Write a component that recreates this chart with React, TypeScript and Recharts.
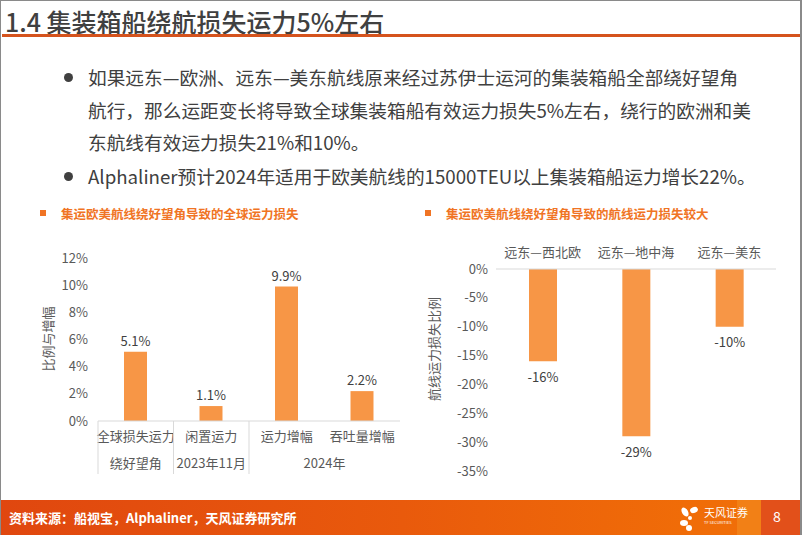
import { BarChart, Bar, XAxis, YAxis, LabelList } from "recharts";

// 左图：全球运力损失
const globalCats = ["全球损失运力", "闲置运力", "运力增幅", "吞吐量增幅"];
const globalGroups = ["绕好望角", "2023年11月", "2024年", "2024年"];
const globalValues = [5.1, 1.1, 9.9, 2.2];
const globalTicks = [0, 2, 4, 6, 8, 10, 12];

// 右图：航线运力损失
const routeCats = ["远东—西北欧", "远东—地中海", "远东—美东"];
const routeValues = [-16, -29, -10];
const routeTicks = [0, -5, -10, -15, -20, -25, -30, -35];

const ORANGE = "#f79646";
const TEXT = "#404040";
const AXIS_TEXT = "#595959";
const LINE = "#d9d9d9";
const FONT = '"Noto Sans CJK SC", "Noto Sans", sans-serif';

const L_W = 380;
const L_H = 230;
const L_MARGIN = { top: 12, right: 11, bottom: 0, left: 17 };
const L_YW = 50;
const L_BAND = (L_W - L_MARGIN.left - L_YW - L_MARGIN.right) / globalCats.length;

function GlobalTick(props: any) {
    const { x, y, payload } = props;
    const i = payload.index;
    const group = globalGroups[i];
    const isStart = i === 0 || globalGroups[i - 1] !== group;
    let run = 1;
    while (isStart && globalGroups[i + run] === group) run++;
    return (
        <g>
            <text
                x={x}
                y={y + 14}
                textAnchor="middle"
                dominantBaseline="central"
                fontSize={13}
                fill={AXIS_TEXT}
            >
                {payload.value}
            </text>
            {isStart && (
                <>
                    <text
                        x={x + ((run - 1) * L_BAND) / 2}
                        y={y + 41}
                        textAnchor="middle"
                        dominantBaseline="central"
                        fontSize={13}
                        fill={AXIS_TEXT}
                    >
                        {group}
                    </text>
                    <line
                        x1={x - L_BAND / 2}
                        x2={x - L_BAND / 2}
                        y1={y}
                        y2={y + 53}
                        stroke={LINE}
                    />
                </>
            )}
        </g>
    );
}

function BelowLabel(props: any) {
    const { x, y, width, height, value } = props;
    const bottom = Math.max(y, y + height);
    return (
        <text
            x={x + width / 2}
            y={bottom + 15}
            textAnchor="middle"
            dominantBaseline="central"
            fontSize={13}
            fill={TEXT}
        >
            {value}%
        </text>
    );
}

function ChartTitle({ left, text }: { left: number; text: string }) {
    return (
        <div style={{ position: "absolute", left, top: 203, height: 18, display: "flex", alignItems: "center" }}>
            <div style={{ width: 6, height: 6, background: "#f07424", marginRight: 15 }} />
            <span style={{ fontSize: 12.5, fontWeight: 700, color: "#f07424", whiteSpace: "nowrap" }}>{text}</span>
        </div>
    );
}

function AxisTitle({ x, y, text }: { x: number; y: number; text: string }) {
    return (
        <div
            style={{
                position: "absolute",
                left: x,
                top: y,
                transform: "translate(-50%, -50%) rotate(-90deg)",
                fontSize: 13,
                color: AXIS_TEXT,
                whiteSpace: "nowrap",
            }}
        >
            {text}
        </div>
    );
}

const bullets = [
    { dot: true, text: "如果远东—欧洲、远东—美东航线原来经过苏伊士运河的集装箱船全部绕好望角" },
    { dot: false, text: "航行，那么运距变长将导致全球集装箱船有效运力损失5%左右，绕行的欧洲和美" },
    { dot: false, text: "东航线有效运力损失21%和10%。" },
    { dot: true, text: "Alphaliner预计2024年适用于欧美航线的15000TEU以上集装箱船运力增长22%。" },
];
const bulletY = [76, 109, 141, 175];

export default function App() {
    const globalData = globalCats.map((name, i) => ({ name, value: globalValues[i] }));
    const routeData = routeCats.map((name, i) => ({ name, value: routeValues[i] }));

    return (
        <div
            style={{
                position: "absolute",
                left: 0,
                top: 0,
                width: 802,
                height: 535,
                background: "#fff",
                fontFamily: FONT,
                overflow: "hidden",
                boxSizing: "border-box",
                borderTop: "1px solid #8a8a8a",
                borderLeft: "1px solid #8a8a8a",
                borderRight: "2px solid #8a8a8a",
            }}
        >
            {/* 标题 */}
            <div
                style={{
                    position: "absolute",
                    left: 4,
                    top: 5,
                    fontSize: 25,
                    lineHeight: "30px",
                    fontWeight: 500,
                    color: TEXT,
                    whiteSpace: "nowrap",
                }}
            >
                1.4 集装箱船绕航损失运力5%左右
            </div>
            <div style={{ position: "absolute", left: 1, top: 33, width: 799, height: 3, background: "#d5531d" }} />

            {/* 正文 */}
            {bullets.map((b, i) => (
                <div key={i}>
                    {b.dot && (
                        <div
                            style={{
                                position: "absolute",
                                left: 63,
                                top: bulletY[i] - 4,
                                width: 9,
                                height: 9,
                                borderRadius: "50%",
                                background: TEXT,
                            }}
                        />
                    )}
                    <div
                        style={{
                            position: "absolute",
                            left: 87,
                            top: bulletY[i] - 14,
                            fontSize: 18.7,
                            lineHeight: "28px",
                            color: TEXT,
                            whiteSpace: "nowrap",
                        }}
                    >
                        {b.text}
                    </div>
                </div>
            ))}

            {/* 左图 */}
            <ChartTitle left={39} text="集运欧美航线绕好望角导致的全球运力损失" />
            <AxisTitle x={46} y={338} text="比例与增幅" />
            <div style={{ position: "absolute", left: 30, top: 245 }}>
                <BarChart width={L_W} height={L_H} data={globalData} margin={L_MARGIN}>
                    <XAxis
                        dataKey="name"
                        height={55}
                        axisLine={{ stroke: LINE }}
                        tickLine={false}
                        tickSize={0}
                        tickMargin={0}
                        tick={<GlobalTick />}
                        interval={0}
                    />
                    <YAxis
                        width={L_YW}
                        domain={[0, 12]}
                        ticks={globalTicks}
                        axisLine={false}
                        tickLine={false}
                        tickMargin={4}
                        tickFormatter={(v) => `${v}%`}
                        tick={{ fontSize: 13, fill: AXIS_TEXT }}
                    />
                    <Bar dataKey="value" fill={ORANGE} barSize={23} isAnimationActive={false}>
                        <LabelList
                            dataKey="value"
                            position="top"
                            offset={6}
                            formatter={(v: any) => `${v}%`}
                            style={{ fontSize: 13, fill: TEXT }}
                        />
                    </Bar>
                </BarChart>
            </div>

            {/* 右图 */}
            <ChartTitle left={424} text="集运欧美航线绕好望角导致的航线运力损失较大" />
            <AxisTitle x={432} y={348} text="航线运力损失比例" />
            <div style={{ position: "absolute", left: 400, top: 225 }}>
                <BarChart
                    width={390}
                    height={255}
                    data={routeData}
                    margin={{ top: 13, right: 15, bottom: 10, left: 40 }}
                >
                    <XAxis
                        dataKey="name"
                        orientation="top"
                        height={30}
                        axisLine={{ stroke: LINE }}
                        tickLine={false}
                        tickMargin={6}
                        interval={0}
                        tick={{ fontSize: 13, fill: AXIS_TEXT }}
                    />
                    <YAxis
                        width={55}
                        domain={[-35, 0]}
                        ticks={routeTicks}
                        axisLine={false}
                        tickLine={false}
                        tickFormatter={(v) => `${v}%`}
                        tick={{ fontSize: 13, fill: AXIS_TEXT }}
                    />
                    <Bar dataKey="value" fill={ORANGE} barSize={28} isAnimationActive={false}>
                        <LabelList dataKey="value" content={<BelowLabel />} />
                    </Bar>
                </BarChart>
            </div>

            {/* 页脚 */}
            <div
                style={{
                    position: "absolute",
                    left: 0,
                    top: 499,
                    width: 802,
                    height: 36,
                    background: "linear-gradient(90deg, #e0470f 0%, #e95a0c 50%, #f06c08 85%, #f07008 100%)",
                }}
            />
            <div style={{ position: "absolute", left: 736, top: 499, width: 24, height: 36, background: "#f2851a", opacity: 0.8 }} />
            <div style={{ position: "absolute", left: 760, top: 499, width: 42, height: 36, background: "#e2501a" }} />
            <div
                style={{
                    position: "absolute",
                    left: 8,
                    top: 507,
                    fontSize: 13,
                    lineHeight: "20px",
                    fontWeight: 700,
                    color: "#fff",
                    whiteSpace: "nowrap",
                }}
            >
                资料来源：船视宝，Alphaliner，天风证券研究所
            </div>
            <svg style={{ position: "absolute", left: 676, top: 503 }} width={26} height={28}>
                <ellipse cx={8} cy={8} rx={3} ry={5} fill="#fff" transform="rotate(-30 8 8)" />
                <ellipse cx={17} cy={6} rx={4} ry={3} fill="#fff" transform="rotate(-20 17 6)" />
                <ellipse cx={7} cy={19} rx={4} ry={3} fill="#fff" />
                <ellipse cx={12} cy={24} rx={3} ry={3} fill="#fff" />
                <circle cx={13} cy={14} r={2} fill="#fff" />
            </svg>
            <div style={{ position: "absolute", left: 703, top: 505, fontSize: 11, lineHeight: "13px", color: "#fff", whiteSpace: "nowrap" }}>
                天风证券
            </div>
            <div style={{ position: "absolute", left: 703, top: 519, fontSize: 4, lineHeight: "5px", color: "#fff", whiteSpace: "nowrap" }}>
                TF SECURITIES
            </div>
            <div style={{ position: "absolute", left: 772, top: 505, fontSize: 14, lineHeight: "20px", color: "#fff" }}>8</div>
        </div>
    );
}
